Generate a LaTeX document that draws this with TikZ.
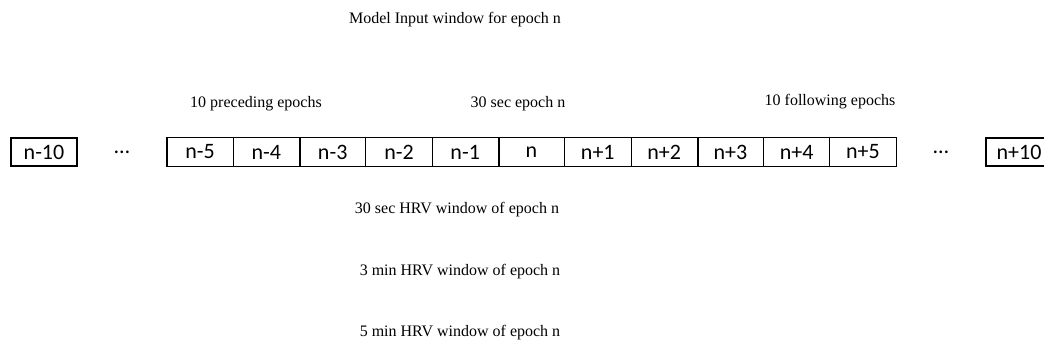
\documentclass[tikz,border=0pt]{standalone}
\usepackage{fontspec}
\setmainfont{Liberation Serif}
\newfontfamily\boxfont{Carlito}
\usepackage{tikz}

\begin{document}
\begin{tikzpicture}[x=0.75pt, y=-0.75pt,
        cell/.style={draw, line width=0.6pt, minimum width=49.7pt, minimum height=21.2pt, inner sep=0pt, font=\boxfont\fontsize{16.5}{18}\selectfont},
        endcell/.style={cell, line width=1.4pt},
        frameline/.style={line width=1.4pt},
        label/.style={font=\fontsize{12}{14}\selectfont}]
            \useasboundingbox (0, 0) rectangle (1044, 358);

            \node[label] (T) at (455, 20) {Model Input window for epoch n};

            \node[label] (P) at (256, 104) {10 preceding epochs};
            \node[label] (E) at (518, 104) {30 sec epoch n};
            \node[label] (F) at (830, 102) {10 following epochs};

            \node[endcell] (A0) at (44, 152) {n-10};
            \node[font=\boxfont\fontsize{16.5}{18}\selectfont] (D1) at (122, 152) {\dots};

            \node[cell] (A1) at (200.1, 152) {n-5};
            \node[cell] (A2) at (266.4, 152) {n-4};
            \node[cell] (A3) at (332.7, 152) {n-3};
            \node[cell] (A4) at (399.0, 152) {n-2};
            \node[cell] (A5) at (465.2, 152) {n-1};
            \node[cell] (A6) at (531.5, 152) {n};
            \node[cell] (A7) at (597.8, 152) {n+1};
            \node[cell] (A8) at (664.1, 152) {n+2};
            \node[cell] (A9) at (730.4, 152) {n+3};
            \node[cell] (A10) at (796.6, 152) {n+4};
            \node[cell] (A11) at (862.9, 152) {n+5};

            \node[font=\boxfont\fontsize{16.5}{18}\selectfont] (D2) at (941, 152) {\dots};
            \node[endcell] (A12) at (1019, 152) {n+10};

            \draw[frameline] (A1.north west) rectangle (A11.south east);
            \draw[frameline] (A2.north east) -- (A2.south east);
            \draw[frameline] (A5.north east) -- (A5.south east);
            \draw[frameline] (A8.north east) -- (A8.south east);

            \node[label] (H1) at (457, 210) {30 sec HRV window of epoch n};
            \node[label] (H2) at (460, 272) {3 min HRV window of epoch n};
            \node[label] (H3) at (460, 333) {5 min HRV window of epoch n};

        \end{tikzpicture}
\end{document}
